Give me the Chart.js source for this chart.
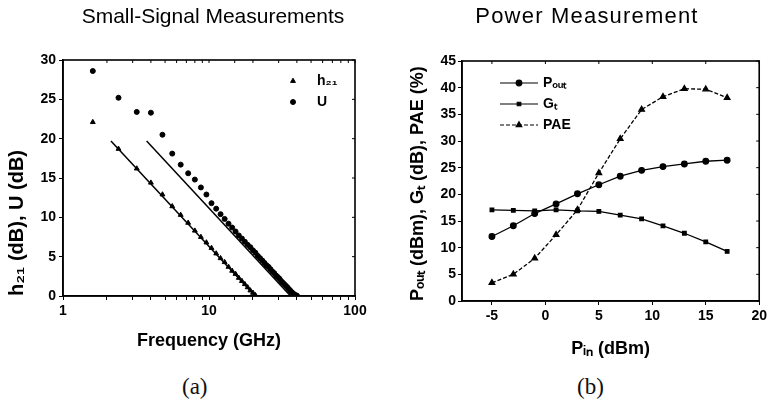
<!DOCTYPE html>
<html>
<head>
<meta charset="utf-8">
<script src="https://cdn.jsdelivr.net/npm/chart.js@4.4.1/dist/chart.umd.min.js"></script>
<style>
  body { margin: 0; background: #fff; width: 770px; height: 406px; overflow: hidden; position: relative; }
  .box { position: absolute; top: 0; width: 385px; height: 360px; }
  .head { position: absolute; top: 4px; width: 320px; text-align: center; font-family: "Liberation Sans", Arial, sans-serif; font-size: 21px; color: #000; }
  .tag { position: absolute; top: 374px; font-family: "Liberation Serif", "DejaVu Serif", serif; font-size: 23px; color: #111; }
</style>
</head>
<body>
<div class="box" style="left:0"><canvas id="left"></canvas></div>
<div class="box" style="left:385px"><canvas id="right"></canvas></div>
<div class="head" style="left:53px">Small-Signal Measurements</div>
<div class="head" style="left:427px; font-size:22px; letter-spacing:1.2px; top:3px">Power Measurement</div>
<div class="tag" style="left:182px">(a)</div>
<div class="tag" style="left:577px">(b)</div>
<script>
const FONT = '"Liberation Sans", Arial, sans-serif';

// (a) small-signal sweep
const freqGHz = [1.6, 2.4, 3.2, 4.0, 4.8, 5.6, 6.4, 7.2, 8.0, 8.8, 9.6, 10.4, 11.2, 12.0, 12.8, 13.6,
  14.4, 15.2, 16.0, 16.8, 17.6, 18.4, 19.2, 20.0, 20.8, 21.6, 22.4, 23.2, 24.0, 24.8, 25.6, 26.4,
  27.2, 28.0, 28.8, 29.6, 30.4, 31.2, 32.0, 32.8, 33.6, 34.4, 35.2, 36.0, 36.8, 37.6, 38.4, 39.2, 40.0];
const h21Db = [22.1, 18.7, 16.2, 14.4, 12.9, 11.4, 10.3, 9.3, 8.3, 7.5, 6.8, 6.1, 5.4, 4.8, 4.3, 3.7,
  3.2, 2.8, 2.3, 1.9, 1.5, 1.1, 0.7, 0.4, 0.1];
const uDb = [28.6, 25.2, 23.4, 23.3, 20.5, 18.1, 16.7, 15.6, 14.8, 13.8, 12.9, 11.8, 11.1, 10.4, 9.8, 9.2,
  8.7, 8.2, 7.7, 7.3, 6.9, 6.5, 6.2, 5.8, 5.5, 5.1, 4.8, 4.5, 4.2, 3.9, 3.7, 3.4,
  3.1, 2.9, 2.6, 2.4, 2.2, 1.9, 1.7, 1.5, 1.3, 1.1, 0.9, 0.7, 0.5, 0.35, 0.2, 0.1, 0.05];
// -20 dB/dec fit lines
const h21FitX = [2.13, 20.7], h21FitY = [19.7, 0];
const uFitX = [3.74, 36.2], uFitY = [19.7, 0];

// (b) power sweep
const pinDbm = [-5, -3, -1, 1, 3, 5, 7, 9, 11, 13, 15, 17];
const poutDbm = [12.1, 14.1, 16.4, 18.2, 20.1, 21.8, 23.4, 24.5, 25.2, 25.7, 26.2, 26.4];
const gtDb = [17.1, 17.0, 16.9, 17.1, 16.9, 16.8, 16.1, 15.4, 14.1, 12.7, 11.1, 9.3];
const paePct = [3.4, 5.0, 8.0, 12.4, 17.1, 24.0, 30.4, 35.9, 38.3, 39.8, 39.7, 38.1];

const xy = (xs, ys) => ys.map((y, i) => ({ x: xs[i], y: y }));

// box around the plot + small ticks on top/right edges
const framePlugin = {
  id: 'frame',
  afterDatasetsDraw(chart) {
    const { ctx, chartArea: a, scales } = chart;
    ctx.save();
    ctx.strokeStyle = '#000';
    ctx.lineWidth = 1.6;
    ctx.strokeRect(a.left, a.top, a.right - a.left, a.bottom - a.top);
    ctx.lineWidth = 1;
    scales.x.ticks.forEach(t => {
      const px = scales.x.getPixelForValue(t.value);
      if (px < a.left || px > a.right) return;
      ctx.beginPath(); ctx.moveTo(px, a.top); ctx.lineTo(px, a.top + 3); ctx.stroke();
    });
    scales.y.ticks.forEach(t => {
      const py = scales.y.getPixelForValue(t.value);
      ctx.beginPath(); ctx.moveTo(a.right, py); ctx.lineTo(a.right - 3, py); ctx.stroke();
    });
    ctx.restore();
  }
};

// legend drawn where the original has it
const keyPlugin = {
  id: 'key',
  afterDraw(chart, args, opts) {
    const ctx = chart.ctx;
    ctx.save();
    ctx.font = 'bold 14px ' + FONT;
    ctx.textBaseline = 'middle';
    let row = 0;
    chart.data.datasets.forEach(ds => {
      if (!ds.label) return;
      const y = opts.y + row * opts.gap;
      row++;
      ctx.strokeStyle = '#000';
      ctx.fillStyle = '#000';
      let mx = opts.x;
      if (opts.line) {
        ctx.lineWidth = 1.2;
        ctx.setLineDash(ds.borderDash || []);
        ctx.beginPath(); ctx.moveTo(opts.x, y); ctx.lineTo(opts.x + opts.len, y); ctx.stroke();
        ctx.setLineDash([]);
        mx = opts.x + opts.len / 2;
      }
      Chart.helpers.drawPoint(ctx, { pointStyle: ds.pointStyle, radius: ds.pointRadius, borderWidth: 1, rotation: 0 }, mx, y);
      ctx.fillText(ds.label, opts.textX, y);
    });
    ctx.restore();
  }
};

const tickFont = { family: FONT, size: 14, weight: 'bold' };
const axisFont = { family: FONT, size: 18, weight: 'bold' };

new Chart(document.getElementById('left'), {
  type: 'scatter',
  data: {
    datasets: [
      { label: 'h₂₁', data: xy(freqGHz, h21Db), pointStyle: 'triangle', pointRadius: 2.8,
        backgroundColor: '#000', borderColor: '#000', borderWidth: 1, showLine: false },
      { label: 'U', data: xy(freqGHz, uDb), pointStyle: 'circle', pointRadius: 2.5,
        backgroundColor: '#000', borderColor: '#000', borderWidth: 1, showLine: false },
      { data: xy(h21FitX, h21FitY), showLine: true, pointRadius: 0, borderColor: '#000', borderWidth: 1.5 },
      { data: xy(uFitX, uFitY), showLine: true, pointRadius: 0, borderColor: '#000', borderWidth: 1.5 }
    ]
  },
  options: {
    responsive: true, maintainAspectRatio: false, animation: false,
    layout: { padding: { left: 0, right: 30, top: 60, bottom: 4 } },
    plugins: {
      legend: { display: false }, tooltip: { enabled: false },
      key: { x: 293, y: 81, gap: 21, textX: 317, line: false }
    },
    scales: {
      x: {
        type: 'logarithmic', min: 1, max: 100,
        afterFit(s) { s.height = 60; },
        grid: { drawOnChartArea: false, tickLength: 4, color: '#000' },
        border: { color: '#000', width: 1.6 },
        ticks: { autoSkip: false, maxRotation: 0, color: '#000', font: tickFont, padding: 3,
          callback: v => ([1, 10, 100].includes(v) ? String(v) : '') },
        title: { display: true, text: 'Frequency (GHz)', color: '#000', font: axisFont, padding: { top: 0, bottom: 4 } }
      },
      y: {
        min: 0, max: 30,
        afterFit(s) { s.width = 63; },
        grid: { drawOnChartArea: false, tickLength: 4, color: '#000' },
        border: { color: '#000', width: 1.6 },
        ticks: { stepSize: 5, color: '#000', font: tickFont, padding: 3 },
        title: { display: true, text: 'h₂₁ (dB), U (dB)', align: 'start', color: '#000',
          font: { family: FONT, size: 20, weight: 'bold' }, padding: { top: 5, bottom: 0 } }
      }
    }
  },
  plugins: [framePlugin, keyPlugin]
});

new Chart(document.getElementById('right'), {
  type: 'scatter',
  data: {
    datasets: [
      { label: 'Pₒᵤₜ', data: xy(pinDbm, poutDbm), showLine: true, pointStyle: 'circle', pointRadius: 2.8,
        backgroundColor: '#000', borderColor: '#000', borderWidth: 1.3 },
      { label: 'Gₜ', data: xy(pinDbm, gtDb), showLine: true, pointStyle: 'rect', pointRadius: 2.5,
        backgroundColor: '#000', borderColor: '#000', borderWidth: 1.3 },
      { label: 'PAE', data: xy(pinDbm, paePct), showLine: true, pointStyle: 'triangle', pointRadius: 3.2,
        backgroundColor: '#000', borderColor: '#000', borderWidth: 1.3, borderDash: [4, 2] }
    ]
  },
  options: {
    responsive: true, maintainAspectRatio: false, animation: false,
    layout: { padding: { left: 0, right: 9, top: 61, bottom: 0 } },
    plugins: {
      legend: { display: false }, tooltip: { enabled: false },
      key: { x: 115, y: 83, gap: 21, len: 38, textX: 158, line: true }
    },
    scales: {
      x: {
        min: -7.8, max: 20,
        afterFit(s) { s.height = 59; },
        grid: { drawOnChartArea: false, tickLength: 4, color: '#000' },
        border: { color: '#000', width: 1.6 },
        ticks: { stepSize: 5, includeBounds: false, maxRotation: 0, color: '#000', font: tickFont, padding: 3 },
        title: { display: true, text: 'Pᵢₙ (dBm)', color: '#000', font: axisFont, padding: { top: 0, bottom: 0 } }
      },
      y: {
        min: 0, max: 45,
        afterFit(s) { s.width = 77; },
        grid: { drawOnChartArea: false, tickLength: 4, color: '#000' },
        border: { color: '#000', width: 1.6 },
        ticks: { stepSize: 5, color: '#000', font: tickFont, padding: 2 },
        title: { display: true, text: 'Pₒᵤₜ (dBm), Gₜ (dB), PAE (%)', align: 'start', color: '#000', font: axisFont, padding: { top: 22, bottom: 0 } }
      }
    }
  },
  plugins: [framePlugin, keyPlugin]
});
</script>
</body>
</html>
